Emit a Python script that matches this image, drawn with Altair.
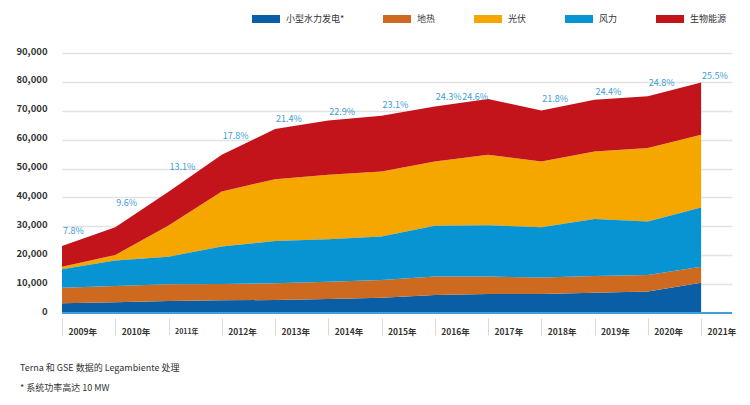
import altair as alt
import pandas as pd

years = list(range(2009, 2022))
small_hydro = [3360, 3700, 4160, 4390, 4500, 4850, 5300, 6240, 6590, 6590, 7050, 7400, 10500]
geothermal = [5420, 5660, 5780, 5660, 5790, 6010, 6140, 6360, 6010, 5660, 5770, 5770, 5550]
photovoltaic = [900, 1970, 10800, 19050, 21380, 22290, 22530, 22290, 24370, 22750, 23340, 25430, 25200]
wind = [6370, 8770, 9560, 12950, 14670, 14680, 15010, 17560, 17800, 17450, 19760, 18480, 20450]
bioenergy = [7170, 9600, 11700, 12710, 17330, 18830, 19300, 19070, 19300, 17680, 17910, 17910, 18130]
share_labels = ["7.8%", "9.6%", "13.1%", "17.8%", "21.4%", "22.9%", "23.1%",
                "24.3%", "24.6%", "21.8%", "24.4%", "24.8%", "25.5%"]

series_names = ["小型水力发电*", "地热", "光伏", "风力", "生物能源"]
series_colors = ["#0a5ea6", "#cd6a1f", "#f5a700", "#0893d2", "#c3141b"]
stack_names = ["小型水力发电*", "地热", "风力", "光伏", "生物能源"]  # bottom -> top

source_note = "Terna 和 GSE 数据的 Legambiente 处理"
footnote = "* 系统功率高达 10 MW"

FONT = "Noto Sans CJK SC"

# ---- long table for the stacked areas
series_values = {
    "小型水力发电*": small_hydro,
    "地热": geothermal,
    "光伏": photovoltaic,
    "风力": wind,
    "生物能源": bioenergy,
}
rows = []
for name, vals in series_values.items():
    for y, v in zip(years, vals):
        rows.append({"year": y, "series": name, "value": v, "rank": stack_names.index(name)})
df = pd.DataFrame(rows)

# ---- share labels, anchored on the top of the stack under each label
totals = [sum(s[i] for s in series_values.values()) for i in range(len(years))]
right_aligned_years = [2017]
lab_rows = []
n = len(years)
for i, y in enumerate(years):
    if y in right_aligned_years:
        anchor = (totals[i] + totals[i - 1]) / 2
        side = "right"
    else:
        anchor = (totals[i] + totals[min(i + 1, n - 1)]) / 2
        side = "left"
    lab_rows.append({"year": y, "anchor": anchor, "label": share_labels[i], "side": side, "zero": 0})
lab = pd.DataFrame(lab_rows)

x_scale = alt.Scale(domain=[2009, 2021.58], nice=False, zero=False)
y_scale = alt.Scale(domain=[0, 90000], nice=False)

x_axis = alt.Axis(
    values=years, labelExpr="datum.value + '年'", title=None, grid=False, domain=False,
    tickColor="#d9d9d9", tickSize=17, tickWidth=1, offset=5,
    labelAlign="left", labelBaseline="middle", labelPadding=-4, labelOffset=6,
    labelFont=FONT, labelColor="#333333", labelFontWeight="bold",
    labelFontSize={"condition": {"test": "datum.value == 2011", "value": 7}, "value": 8.5},
)
y_axis = alt.Axis(
    values=list(range(0, 90001, 10000)), labelExpr="format(datum.value, ',')",
    title=None, domain=False, ticks=False,
    gridColor="#e3e3e3", gridWidth=1.3, labelPadding=15, labelOffset=-2,
    labelFont=FONT, labelColor="#333333", labelFontSize=9.5, labelFontWeight="bold",
)


def X(field):
    return alt.X(field, scale=x_scale, axis=x_axis)


def Y(field, **kw):
    return alt.Y(field, scale=y_scale, axis=y_axis, **kw)


areas = alt.Chart(df).mark_area().encode(
    x=X("year:Q"),
    y=Y("value:Q", stack="zero"),
    color=alt.Color(
        "series:N",
        scale=alt.Scale(domain=series_names, range=series_colors),
        legend=alt.Legend(
            orient="none", direction="horizontal", legendX=190, legendY=-48, title=None,
            symbolType="M-1,-0.2857L1,-0.2857L1,0.2857L-1,0.2857Z", symbolSize=784,
            symbolStrokeWidth=0, symbolOpacity=1, labelFont=FONT, labelFontSize=9,
            labelColor="#333333", labelOffset=6, columnPadding=38, columns=5,
        ),
    ),
    order=alt.Order("rank:Q", sort="ascending"),
)

baseline = alt.Chart(lab).mark_rule(color="#3fa0d8", strokeWidth=2).encode(y=Y("zero:Q"))

label_left = alt.Chart(lab).transform_filter("datum.side == 'left'").mark_text(
    align="left", baseline="middle", dy=-6, dx=1, color="#3aa0d5", fontSize=9, font=FONT
).encode(x=X("year:Q"), y=Y("anchor:Q"), text="label:N")

label_right = alt.Chart(lab).transform_filter("datum.side == 'right'").mark_text(
    align="right", baseline="middle", dy=-6, dx=0, color="#3aa0d5", fontSize=9, font=FONT
).encode(x=X("year:Q"), y=Y("anchor:Q"), text="label:N")

notes = pd.DataFrame({"t": [source_note, footnote], "k": [0, 1]})
note1 = alt.Chart(notes).transform_filter("datum.k == 0").mark_text(
    align="left", baseline="middle", fontSize=9, color="#333333", font=FONT
).encode(x=alt.value(-42), y=alt.value(315), text="t:N")
note2 = alt.Chart(notes).transform_filter("datum.k == 1").mark_text(
    align="left", baseline="middle", fontSize=9, color="#333333", font=FONT
).encode(x=alt.value(-42), y=alt.value(335), text="t:N")

chart = alt.layer(areas, baseline, label_left, label_right, note1, note2).properties(
    width=670, height=260,
    padding={"left": 54, "top": 45, "right": 10, "bottom": 90},
    autosize=alt.AutoSizeParams(type="none"),
    background="white",
).configure_view(stroke=None)

chart.save("out.html", embed_options={"renderer": "svg", "actions": False})
